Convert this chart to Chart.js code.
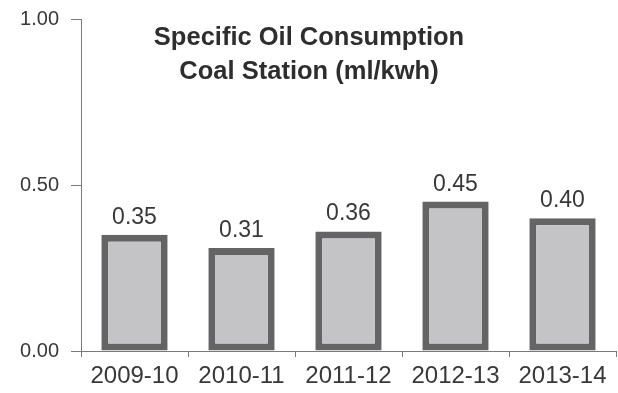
<!DOCTYPE html>
<html>
<head>
<meta charset="utf-8">
<script src="https://cdn.jsdelivr.net/npm/chart.js@4.4.1/dist/chart.umd.min.js"></script>
<style>
  html, body { margin: 0; padding: 0; background: #ffffff; }
  #wrap { width: 618px; height: 393px; }
</style>
</head>
<body>
<div id="wrap"><canvas id="chart" width="618" height="393"></canvas></div>
<script>
// Fiscal years on the category axis
const years = ['2009-10', '2010-11', '2011-12', '2012-13', '2013-14'];
// Specific oil consumption, ml per kWh
const oilConsumption = [0.35, 0.31, 0.36, 0.45, 0.40];
// Value axis tick labels
const yTickValues = [0, 0.5, 1.0];
// Two-line heading
const titleLines = ['Specific Oil Consumption', 'Coal Station (ml/kwh)'];

const FONT = 'Helvetica, Arial, "Liberation Sans", sans-serif';
const TEXT = '#383838';
const AXIS = '#7a7a7a';

// Heading drawn inside the plot area
const headingPlugin = {
  id: 'heading',
  afterDraw(chart) {
    const ctx = chart.ctx;
    ctx.save();
    ctx.fillStyle = '#2e2e2e';
    ctx.font = 'bold 25.5px ' + FONT;
    ctx.textAlign = 'center';
    ctx.textBaseline = 'alphabetic';
    const cx = chart.width / 2;
    ctx.fillText(titleLines[0], cx, 45);
    ctx.fillText(titleLines[1], cx, 79);
    ctx.restore();
  }
};

// Value written above each bar
const valueLabelPlugin = {
  id: 'valueLabels',
  afterDatasetsDraw(chart) {
    const ctx = chart.ctx;
    const meta = chart.getDatasetMeta(0);
    const data = chart.data.datasets[0].data;
    ctx.save();
    ctx.fillStyle = TEXT;
    ctx.font = '23px ' + FONT;
    ctx.textAlign = 'center';
    ctx.textBaseline = 'alphabetic';
    meta.data.forEach((bar, i) => {
      ctx.fillText(data[i].toFixed(2), bar.x, bar.y - 11);
    });
    ctx.restore();
  }
};

new Chart(document.getElementById('chart'), {
  type: 'bar',
  data: {
    labels: years,
    datasets: [{
      data: oilConsumption,
      backgroundColor: '#c4c4c7',
      borderColor: '#646464',
      borderWidth: 7,
      borderSkipped: false,
      categoryPercentage: 1.0,
      barPercentage: 0.62
    }]
  },
  options: {
    responsive: false,
    animation: false,
    devicePixelRatio: 1,
    layout: {
      autoPadding: false,
      padding: { top: 19, right: 2, left: 0, bottom: 0 }
    },
    plugins: {
      legend: { display: false },
      tooltip: { enabled: false },
      title: { display: false }
    },
    scales: {
      x: {
        offset: true,
        afterFit(scale) { scale.height = 42; },
        grid: {
          offset: true,
          drawOnChartArea: false,
          drawTicks: true,
          tickLength: 6,
          color: AXIS,
          lineWidth: 1
        },
        border: { display: true, color: AXIS, width: 1 },
        ticks: {
          color: TEXT,
          font: { family: FONT, size: 24 },
          padding: 5,
          maxRotation: 0,
          autoSkip: false
        }
      },
      y: {
        min: 0,
        max: 1,
        afterFit(scale) { scale.width = 81; },
        afterBuildTicks(scale) {
          scale.ticks = yTickValues.map(v => ({ value: v }));
        },
        grid: {
          drawOnChartArea: false,
          drawTicks: true,
          tickLength: 10,
          color: AXIS,
          lineWidth: 1
        },
        border: { display: true, color: AXIS, width: 1 },
        ticks: {
          color: TEXT,
          // compact line box so the top label does not push the plot down
          font: { family: FONT, size: 20, lineHeight: 0.6 },
          padding: 12,
          callback: v => Number(v).toFixed(2)
        }
      }
    }
  },
  plugins: [headingPlugin, valueLabelPlugin]
});
</script>
</body>
</html>
